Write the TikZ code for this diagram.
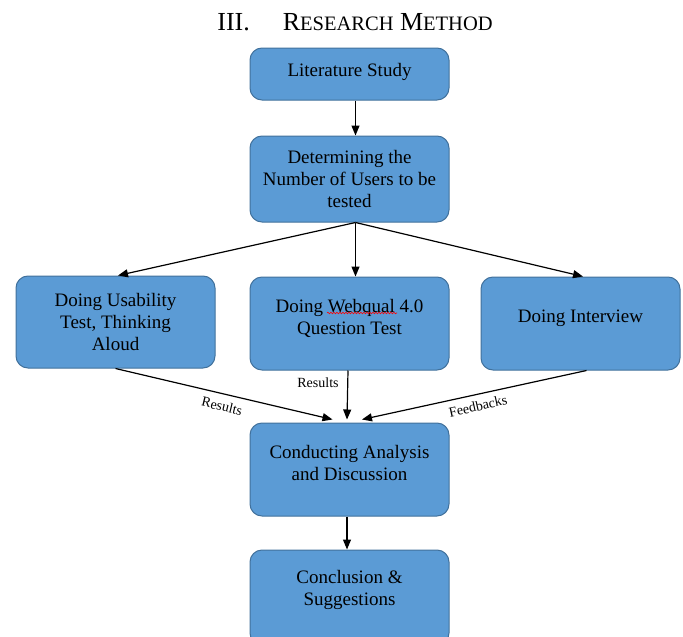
\documentclass[tikz,border=0pt]{standalone}
\usepackage{fontspec}
\setmainfont{Liberation Serif}
\usetikzlibrary{arrows.meta,calc,decorations.pathmorphing}
\definecolor{boxfill}{HTML}{5B9BD5}
\definecolor{boxline}{HTML}{41719C}
\begin{document}
\begin{tikzpicture}[x=1pt,y=-1pt,
  box/.style={draw=boxline, fill=boxfill, line width=1pt, rounded corners=12pt, minimum width=199pt, inner sep=0pt},
  txt/.style={font=\fontsize{19}{22}\selectfont, align=center, inner sep=0pt},
  arr/.style={line width=1.2pt, -{Triangle[length=10pt,width=8pt]}},
  lbl/.style={font=\fontsize{14}{16}\selectfont, inner sep=1pt}]
\useasboundingbox (0,0) rectangle (683,637);
\clip (0,0) rectangle (683,637);
% title
\node[inner sep=0pt, font=\fontsize{26}{30}\selectfont] (title) at (355,22)
  {III.\hspace{33pt}R{\fontsize{20.5}{24}\selectfont ESEARCH} M{\fontsize{20.5}{24}\selectfont ETHOD}};
% boxes
\node[box, minimum height=52pt] (b1) at (349.5,74) {};
\node[box, minimum height=86pt] (b2) at (349.5,179) {};
\node[box, minimum height=92pt] (b3) at (115.5,322) {};
\node[box, minimum height=93pt] (b4) at (349.5,323.5) {};
\node[box, minimum height=93pt] (b5) at (580.5,323.5) {};
\node[box, minimum height=93pt] (b6) at (349.5,469.5) {};
\node[box, minimum height=95pt] (b7) at (349.5,597.5) {};
% texts
\node[txt] (t1) at (349.5,72) {Literature Study};
\node[txt] (t2) at (349.5,179) {Determining the\\Number of Users to be\\tested};
\node[txt] (t3) at (115.5,322) {Doing Usability\\Test, Thinking\\Aloud};
\node[txt] (t4) at (349.5,318) {Doing Webqual 4.0\\Question Test};
\node[txt] (t5) at (580.5,318) {Doing Interview};
\node[txt] (t6) at (349.5,463) {Conducting Analysis\\and Discussion};
\node[txt] (t7) at (349.5,590) {Conclusion \&\\Suggestions};
% spell-check underline
\draw[red, line width=0.6pt, decorate, decoration={snake, amplitude=0.8pt, segment length=3pt}] (327,313) -- (397,313);
% connectors
\draw[arr] ($(b1.south)+(6,0)$) -- ($(b2.north)+(6,0)$);
\draw[arr] ($(b2.south)+(6,0)$) -- ($(b3.north)+(2.5,0)$);
\draw[arr] ($(b2.south)+(6,0)$) -- ($(b4.north)+(6,0)$);
\draw[arr] ($(b2.south)+(6,0)$) -- ($(b5.north)+(2.5,0)$);
\draw[arr] (b3.south) -- ($(b6.north)+(-17,-3)$);
\draw[arr] ($(b4.south)+(-1.5,0)$) -- ($(b6.north)+(-2.5,-3)$);
\draw[arr] ($(b5.south)+(6,0)$) -- ($(b6.north)+(12.5,-3)$);
\draw[arr] ($(b6.south)+(-2.5,0)$) -- ($(b7.north)+(-2.5,0)$);
% labels
\node[lbl] (l1) at (318,383) {Results};
\node[lbl, rotate=-13.5] (l2) at (222,406) {Results};
\node[lbl, rotate=12.5] (l3) at (478,406) {Feedbacks};
\end{tikzpicture}
\end{document}
